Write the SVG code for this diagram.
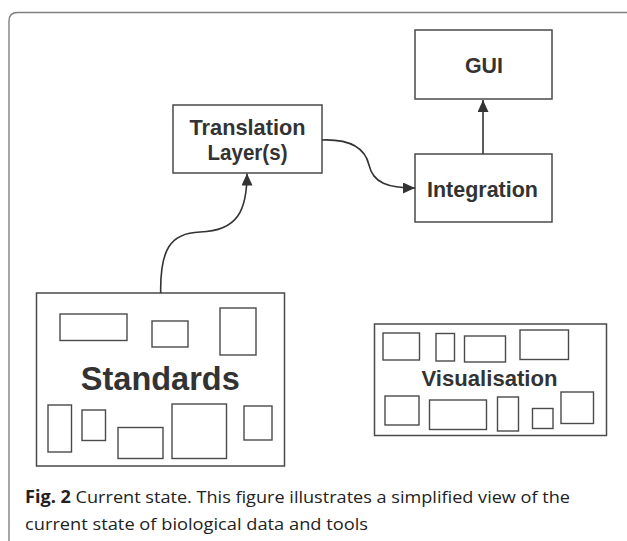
<svg xmlns="http://www.w3.org/2000/svg" width="627" height="541" viewBox="0 0 627 541">
<defs>
<style>
.box{fill:#fff;stroke:#4a4a4a;stroke-width:1.5}
.in{fill:none;stroke:#4a4a4a;stroke-width:1.4}
.lbl{font-family:"Liberation Sans",Arial,sans-serif;font-weight:bold;fill:#333;text-anchor:middle}
.con{fill:none;stroke:#333;stroke-width:1.6}
.cap{font-family:"Open Sans","Noto Sans",sans-serif;font-size:17px;fill:#222}
</style>
<marker id="ah" viewBox="0 0 12 11" refX="12" refY="5.5" markerWidth="12" markerHeight="11" markerUnits="userSpaceOnUse" orient="auto">
<path d="M0,0 L12,5.5 L0,11 z" fill="#333"/>
</marker>
</defs>
<rect width="627" height="541" fill="#fff"/>
<path d="M9,541 V21 Q9,12.5 17.5,12.5 H627" fill="none" stroke="#808080" stroke-width="1.4"/>

<g id="gui">
<rect class="box" x="415" y="30" width="137" height="69"/>
<text class="lbl" x="484" y="72.5" font-size="21.4" textLength="38" lengthAdjust="spacingAndGlyphs">GUI</text>
</g>
<g id="translation">
<rect class="box" x="173" y="105" width="149" height="68"/>
<text class="lbl" x="247.5" y="135" font-size="21.5" textLength="116" lengthAdjust="spacingAndGlyphs">Translation</text>
<text class="lbl" x="247.5" y="160" font-size="21.5" textLength="80" lengthAdjust="spacingAndGlyphs">Layer(s)</text>
</g>
<g id="integration">
<rect class="box" x="415" y="154" width="137" height="68"/>
<text class="lbl" x="482.5" y="197" font-size="21.5" textLength="111" lengthAdjust="spacingAndGlyphs">Integration</text>
</g>
<g id="standards">
<rect class="box" x="36.5" y="293" width="248" height="173"/>
<rect class="in" x="60" y="314" width="67" height="26.5"/>
<rect class="in" x="152" y="321" width="36" height="26"/>
<rect class="in" x="220" y="308" width="36" height="47"/>
<rect class="in" x="48" y="405" width="23.5" height="47"/>
<rect class="in" x="82" y="410" width="23.5" height="30.5"/>
<rect class="in" x="118" y="427.5" width="45" height="31"/>
<rect class="in" x="172" y="404" width="54.5" height="54.5"/>
<rect class="in" x="244" y="406" width="28" height="34"/>
<text class="lbl" x="160.3" y="390" font-size="32.5" textLength="159" lengthAdjust="spacingAndGlyphs">Standards</text>
</g>
<g id="visualisation">
<rect class="box" x="374.5" y="324" width="232" height="111.5"/>
<rect class="in" x="383" y="333" width="36.5" height="27"/>
<rect class="in" x="436" y="333.5" width="18.5" height="27.5"/>
<rect class="in" x="464.5" y="336" width="41" height="26"/>
<rect class="in" x="520" y="330" width="48.5" height="29.5"/>
<rect class="in" x="385" y="396" width="34" height="29"/>
<rect class="in" x="429.5" y="400" width="57" height="29.5"/>
<rect class="in" x="497.5" y="397" width="21" height="34"/>
<rect class="in" x="532.5" y="408.5" width="20.5" height="20"/>
<rect class="in" x="561" y="392" width="32.5" height="31.5"/>
<text class="lbl" x="489.5" y="385.5" font-size="22" textLength="136" lengthAdjust="spacingAndGlyphs">Visualisation</text>
</g>
<g id="connectors">
<path class="con" d="M483,154 V100" marker-end="url(#ah)"/>
<path class="con" d="M322,140 C350,139 365,148 369,165 C373,183 388,188 415,188" marker-end="url(#ah)"/>
<path class="con" d="M160.7,293 C160,250 170,233 200,232 C238,231 247,210 247,173.5" marker-end="url(#ah)"/>
</g>
<g id="caption">
<text class="cap" x="25" y="502.5" textLength="545" lengthAdjust="spacingAndGlyphs"><tspan font-weight="bold">Fig. 2</tspan> Current state. This figure illustrates a simplified view of the</text>
<text class="cap" x="25" y="530" textLength="343" lengthAdjust="spacingAndGlyphs">current state of biological data and tools</text>
</g>
</svg>
